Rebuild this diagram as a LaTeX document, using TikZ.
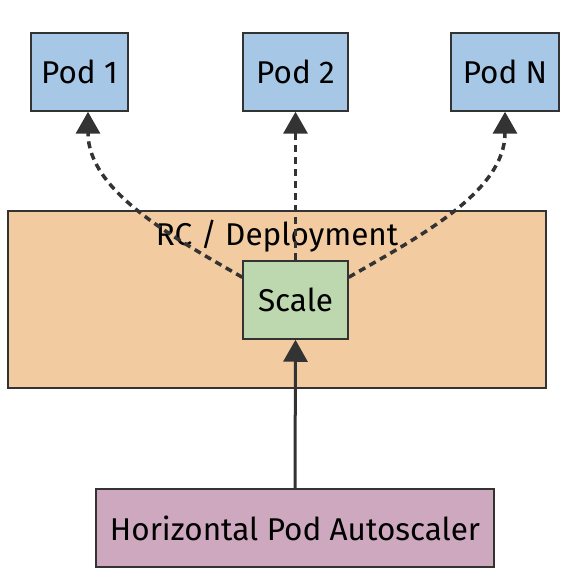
\documentclass[tikz,border=0pt]{standalone}
\usepackage{fontspec}
\setmainfont{Fira Sans}
\usetikzlibrary{arrows.meta}
\definecolor{podblue}{HTML}{A7C7E7}
\definecolor{rcorange}{HTML}{F2CBA1}
\definecolor{scalegreen}{HTML}{BDD7AE}
\definecolor{hpapink}{HTML}{CDA8BE}
\definecolor{edgegray}{HTML}{333333}
\begin{document}
\begin{tikzpicture}[x=1pt,y=1pt,
		box/.style={draw=edgegray,line width=1.5pt,minimum height=78pt,inner sep=0pt,font=\fontsize{31.5}{36}\selectfont},
		podbox/.style={box,fill=podblue},
		link/.style={edgegray,line width=3pt,-{Triangle[length=22pt,width=24pt]}},
		dotlink/.style={link,line width=3.5pt,dash pattern=on 7pt off 5pt}]
			\useasboundingbox (0,0) rectangle (578,578);
			\node[box,fill=rcorange,minimum width=538pt,minimum height=177pt] (rc) at (277,278.5) {};
			\node[font=\fontsize{31.5}{36}\selectfont] (rclabel) at (277,342) {RC / Deployment};
			\node[podbox,minimum width=97pt] (pod1) at (79.5,506) {Pod 1};
			\node[podbox,minimum width=105pt] (pod2) at (295.5,506) {Pod 2};
			\node[podbox,minimum width=108pt] (podn) at (505,506) {Pod N};
			\node[box,fill=scalegreen,minimum width=105pt] (scale) at (295.5,278) {Scale};
			\node[box,fill=hpapink,minimum width=398pt] (hpa) at (295,50) {Horizontal Pod Autoscaler};
			\draw[dotlink] (scale.north) -- (pod2.south);
			\draw[dotlink] (scale.north west) ++(0,-17) coordinate (sl) (sl) to[out=150,in=-90,looseness=0.9] (pod1.south-|88,0);
			\draw[dotlink] (scale.north east) ++(0,-17) coordinate (sr) (sr) to[out=30,in=-90,looseness=0.9] (podn.south);
			\draw[link] (hpa.north) -- (scale.south);
		\end{tikzpicture}
\end{document}
